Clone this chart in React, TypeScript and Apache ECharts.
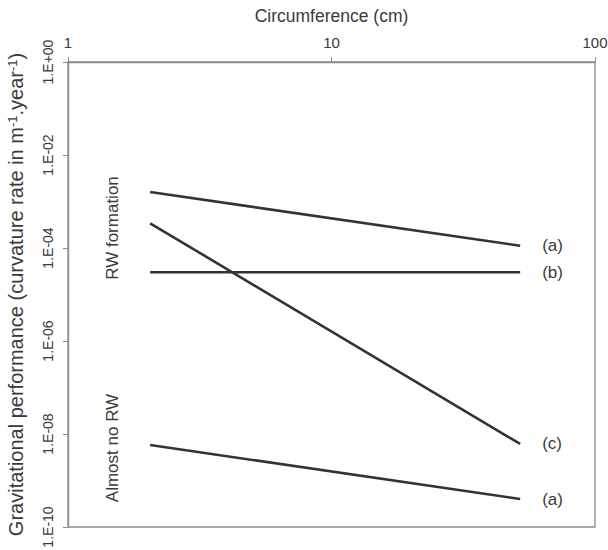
import React, { useEffect, useRef } from "react";
import * as echarts from "echarts";

const xTicks = [1, 10, 100];
const lineA1 = [[2.05, 1.6e-3], [52, 1.12e-4]];
const lineB = [[2.05, 3.0e-5], [52, 3.0e-5]];
const lineC = [[2.05, 3.4e-4], [52, 6.1e-9]];
const lineA2 = [[2.05, 5.8e-9], [52, 4.0e-10]];
const seriesLabels = ["(a)", "(b)", "(c)", "(a)"];
const zoneLabels = ["RW formation", "Almost no RW"];
const FONT = "'Liberation Sans', Arial, sans-serif";

function fmtY(v: number): string {
  const e = Math.round(Math.log10(v));
  const s = Math.abs(e).toString().padStart(2, "0");
  return "1.E" + (e < 0 ? "-" : "+") + s;
}

export default function App() {
  const ref = useRef<HTMLDivElement>(null);
  useEffect(() => {
    document.body.style.margin = "0";
    const chart = echarts.init(ref.current!, null, { renderer: "svg" });
    const datasets = [lineA1, lineB, lineC, lineA2];
    chart.setOption({
      animation: false,
      backgroundColor: "#fff",
      grid: {
        left: 68, right: 13, top: 62, bottom: 23,
        containLabel: false,
        outerBoundsMode: "none",
        show: true, borderColor: "#8c8c8c", borderWidth: 1.3,
      },
      xAxis: {
        type: "log",
        position: "top",
        min: 1, max: 100,
        logBase: 10,
        name: "Circumference (cm)",
        nameLocation: "middle",
        nameGap: 37,
        nameTextStyle: { fontFamily: FONT, fontSize: 17.5, color: "#3a3a3a" },
        axisLine: { show: true, lineStyle: { color: "#8c8c8c", width: 1.3 } },
        axisTick: { show: true, inside: false, length: 5, lineStyle: { color: "#8c8c8c" } },
        splitLine: { show: false },
        minorTick: { show: false },
        axisLabel: {
          fontFamily: FONT, fontSize: 15, color: "#3a3a3a", margin: 12,
          hideOverlap: false,
          alignMinLabel: "center",
          alignMaxLabel: "center",
          formatter: (v: number) => {
            const t = xTicks.find((k) => Math.abs(k - v) / k < 1e-6);
            return t !== undefined ? String(t) : "";
          },
        },
      },
      yAxis: {
        type: "log",
        min: 1e-10, max: 1,
        logBase: 100,
        name: "Gravitational performance (curvature rate in m{sup|-1}.year{sup|-1})",
        nameLocation: "middle",
        nameRotate: 90,
        nameGap: 42,
        nameTextStyle: {
          fontFamily: FONT, fontSize: 20, color: "#3a3a3a",
          rich: { sup: { fontFamily: FONT, fontSize: 13, color: "#3a3a3a", verticalAlign: "top", lineHeight: 16 } },
        },
        axisLine: { show: true, lineStyle: { color: "#8c8c8c", width: 1.3 } },
        axisTick: { show: true, inside: false, length: 5, lineStyle: { color: "#8c8c8c" } },
        splitLine: { show: false },
        axisLabel: {
          rotate: 90,
          fontFamily: FONT, fontSize: 14, color: "#3a3a3a", margin: 13,
          alignMinLabel: "center",
          alignMaxLabel: "center",
          formatter: (v: number) => fmtY(v),
        },
      },
      series: datasets.map((d, i) => ({
        type: "line",
        name: "s" + i,
        data: d,
        symbol: "none",
        silent: true,
        lineStyle: { color: "#333333", width: 2.6 },
        endLabel: {
          show: true,
          formatter: seriesLabels[i],
          distance: 22,
          fontFamily: FONT, fontSize: 17, color: "#3a3a3a",
        },
      })),
      graphic: [
        {
          type: "text", x: 112, y: 228, rotation: Math.PI / 2,
          style: { text: zoneLabels[0], fontFamily: FONT, fontSize: 17, fill: "#3a3a3a", textAlign: "center", textVerticalAlign: "middle" },
        },
        {
          type: "text", x: 112, y: 448, rotation: Math.PI / 2,
          style: { text: zoneLabels[1], fontFamily: FONT, fontSize: 17, fill: "#3a3a3a", textAlign: "center", textVerticalAlign: "middle" },
        },
      ],
    });
    return () => chart.dispose();
  }, []);
  return <div ref={ref} style={{ width: 608, height: 550 }} />;
}
